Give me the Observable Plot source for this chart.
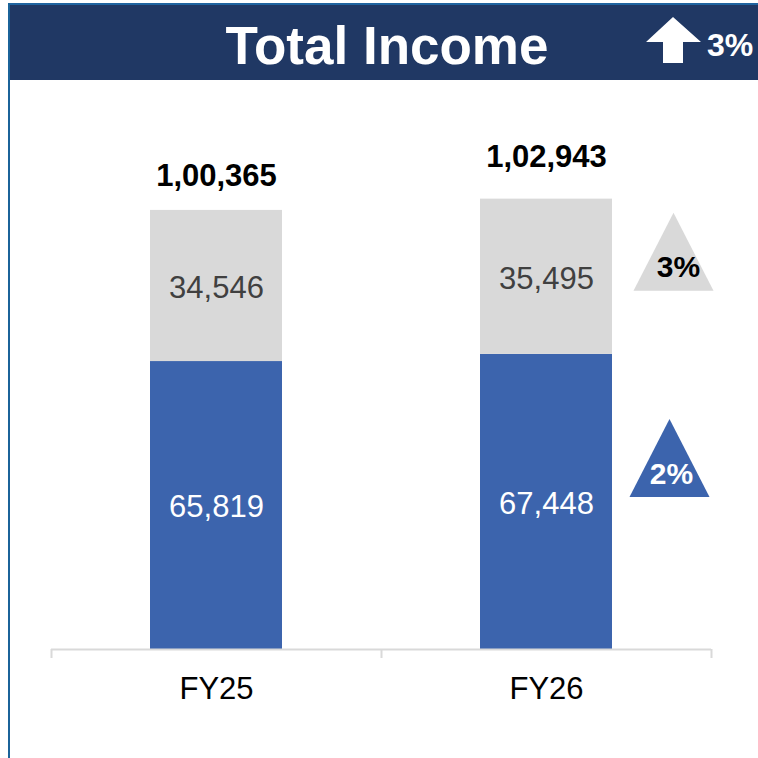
<!DOCTYPE html>
<html>
<head>
<meta charset="utf-8">
<script src="https://cdn.jsdelivr.net/npm/d3@7"></script>
<script src="https://cdn.jsdelivr.net/npm/@observablehq/plot@0.6"></script>
<style>
  html, body { margin: 0; padding: 0; background: white; }
  #wrap { position: relative; width: 758px; height: 758px; overflow: hidden; background: white; font-family: "Liberation Sans", Arial, sans-serif; }
  #chart { position: absolute; left: 0; top: 0; }
  #hdr { position: absolute; left: 0; top: 0; }
  #leftline { position: absolute; left: 8px; top: 3px; width: 2px; height: 755px; background: #1b6399; }
</style>
</head>
<body>
<div id="wrap">
  <div id="chart"></div>
  <svg id="hdr" width="758" height="82">
    <rect x="8" y="3" width="750" height="77" fill="#203864"></rect>
    <rect x="8" y="3" width="750" height="2" fill="#1f64a0"></rect>
    <text id="title" x="387" y="64" text-anchor="middle" fill="white" font-family="'Liberation Sans', Arial, sans-serif" font-weight="bold" font-size="53">Total Income</text>
    <path d="M673,17 L701,42 L683,42 L683,63 L663,63 L663,42 L646,42 Z" fill="white"></path>
    <text id="totalGrowth" x="707" y="56" fill="white" font-family="'Liberation Sans', Arial, sans-serif" font-weight="bold" font-size="32"></text>
  </svg>
  <div id="leftline"></div>
</div>
<script>
// ---- data ----
const categories = ["FY25", "FY26"];
const seriesNames = ["Series 1", "Series 2"];
const series1Values = [65819, 67448];   // blue (bottom)
const series2Values = [34546, 35495];   // grey (top)
const growthLabels = ["2%", "3%"];      // FY26 vs FY25 per series
const totalGrowthLabel = "3%";

// ---- derived tables ----
const rows = categories.flatMap((c, i) => [
  {cat: c, series: seriesNames[0], value: series1Values[i]},
  {cat: c, series: seriesNames[1], value: series2Values[i]}
]);
const totals = categories.map((c, i) => ({cat: c, total: series1Values[i] + series2Values[i]}));
const lastIdx = categories.length - 1;
const lastCat = categories[lastIdx];
const growth = [
  {cat: lastCat, series: seriesNames[0], mid: series1Values[lastIdx] / 2, label: growthLabels[0]},
  {cat: lastCat, series: seriesNames[1], mid: series1Values[lastIdx] + series2Values[lastIdx] / 2, label: growthLabels[1]}
];

function fmtIN(n) {
  const s = String(Math.round(n));
  if (s.length <= 3) return s;
  const last = s.slice(-3);
  let rest = s.slice(0, -3);
  const parts = [];
  while (rest.length > 2) { parts.unshift(rest.slice(-2)); rest = rest.slice(0, -2); }
  if (rest) parts.unshift(rest);
  return parts.join(",") + "," + last;
}

const BLUE = "#3c64ad", GREY = "#d9d9d9", AXIS = "#d9d9d9";
const tri = {draw(ctx) { ctx.moveTo(0, -39); ctx.lineTo(40, 39); ctx.lineTo(-40, 39); ctx.closePath(); }};

document.getElementById("totalGrowth").textContent = totalGrowthLabel;

const plot = Plot.plot({
  width: 758,
  height: 758,
  marginLeft: 51,
  marginRight: 47,
  marginTop: 124,
  marginBottom: 109,
  style: {fontFamily: "'Liberation Sans', Arial, sans-serif", background: "white"},
  x: {domain: categories, paddingInner: 0.6, paddingOuter: 0.3, axis: null},
  y: {domain: [0, 120000], axis: null},
  color: {domain: seriesNames, range: [BLUE, GREY]},
  marks: [
    Plot.barY(rows, {x: "cat", y: "value", fill: "series"}),
    Plot.ruleY([0], {stroke: AXIS, strokeWidth: 2}),
    Plot.ruleX(categories, {x: d => d, dx: -165, stroke: AXIS, strokeWidth: 2, insetTop: 525, insetBottom: -9}),
    Plot.ruleX([lastCat], {x: d => d, dx: 165, stroke: AXIS, strokeWidth: 2, insetTop: 525, insetBottom: -9}),
    Plot.axisX({tickSize: 0, tickPadding: 27, fontSize: 31, label: null, fill: "black"}),
    Plot.text(rows, Plot.stackY({
      x: "cat", y: "value", text: d => fmtIN(d.value),
      fill: d => d.series === seriesNames[0] ? "white" : "#404040",
      fontSize: 31, dy: 2
    })),
    Plot.text(totals.slice(0, 1), {x: "cat", y: "total", text: d => fmtIN(d.total), dy: -34, fontSize: 31, fontWeight: "bold", fill: "black"}),
    Plot.text(totals.slice(1), {x: "cat", y: "total", text: d => fmtIN(d.total), dy: -42, fontSize: 31, fontWeight: "bold", fill: "black"}),
    Plot.dot(growth.slice(1), {x: "cat", y: "mid", symbol: tri, fill: GREY, stroke: null, dx: 127, dy: -25}),
    Plot.text(growth.slice(1), {x: "cat", y: "mid", text: "label", dx: 132, dy: -9, fontSize: 30, fontWeight: "bold", fill: "black"}),
    Plot.dot(growth.slice(0, 1), {x: "cat", y: "mid", symbol: tri, fill: BLUE, stroke: null, dx: 123, dy: -44}),
    Plot.text(growth.slice(0, 1), {x: "cat", y: "mid", text: "label", dx: 125, dy: -28, fontSize: 30, fontWeight: "bold", fill: "white"})
  ]
});
document.getElementById("chart").appendChild(plot);
</script>
</body>
</html>
